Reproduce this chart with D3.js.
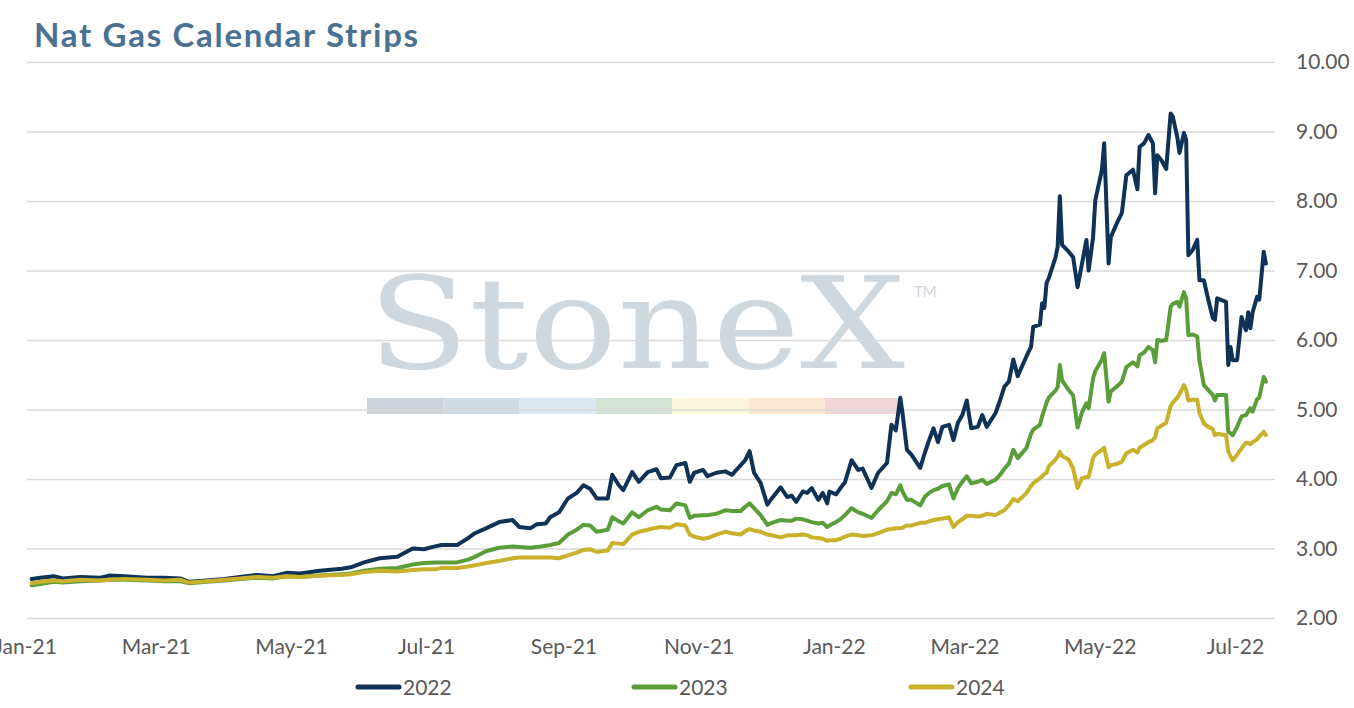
<!DOCTYPE html>
<html>
<head>
<meta charset="utf-8">
<script src="https://cdn.jsdelivr.net/npm/d3@7"></script>
<style>
  html, body { margin: 0; padding: 0; background: #fff; }
  svg { display: block; }
</style>
</head>
<body>
<svg width="1354" height="708"></svg>
<script>
var dates = [
  '2021-01-04','2021-01-08','2021-01-14','2021-01-18','2021-01-26','2021-02-04','2021-02-08','2021-02-15','2021-02-25','2021-03-05',
  '2021-03-12','2021-03-16','2021-03-24','2021-04-01','2021-04-08','2021-04-16','2021-04-23','2021-04-29','2021-05-05','2021-05-14',
  '2021-05-24','2021-05-28','2021-06-03','2021-06-10','2021-06-18','2021-06-25','2021-06-30','2021-07-05','2021-07-08','2021-07-15',
  '2021-07-20','2021-07-23','2021-07-28','2021-08-03','2021-08-09','2021-08-12','2021-08-17','2021-08-20','2021-08-24','2021-08-26',
  '2021-08-30','2021-09-03','2021-09-07','2021-09-10','2021-09-13','2021-09-16','2021-09-21','2021-09-23','2021-09-26','2021-09-28',
  '2021-10-02','2021-10-05','2021-10-09','2021-10-13','2021-10-15','2021-10-19','2021-10-22','2021-10-26','2021-10-28','2021-10-30',
  '2021-11-03','2021-11-05','2021-11-09','2021-11-13','2021-11-16','2021-11-20','2021-11-22','2021-11-24','2021-11-26','2021-11-29',
  '2021-12-02','2021-12-04','2021-12-08','2021-12-11','2021-12-13','2021-12-15','2021-12-18','2021-12-20','2021-12-22','2021-12-25',
  '2021-12-27','2021-12-29','2021-12-30','2022-01-02','2022-01-04','2022-01-06','2022-01-09','2022-01-12','2022-01-14','2022-01-18',
  '2022-01-21','2022-01-25','2022-01-27','2022-01-29','2022-01-31','2022-02-01','2022-02-03','2022-02-05','2022-02-09','2022-02-11',
  '2022-02-13','2022-02-15','2022-02-17','2022-02-19','2022-02-22','2022-02-24','2022-02-26','2022-02-28','2022-03-02','2022-03-04',
  '2022-03-07','2022-03-09','2022-03-11','2022-03-15','2022-03-17','2022-03-19','2022-03-21','2022-03-23','2022-03-25','2022-03-29',
  '2022-03-31','2022-04-01','2022-04-04','2022-04-05','2022-04-06','2022-04-07','2022-04-08','2022-04-11','2022-04-12','2022-04-13',
  '2022-04-14','2022-04-17','2022-04-19','2022-04-21','2022-04-23','2022-04-25','2022-04-26','2022-04-28','2022-04-29','2022-05-02',
  '2022-05-03','2022-05-05','2022-05-06','2022-05-09','2022-05-11','2022-05-13','2022-05-16','2022-05-18','2022-05-19','2022-05-21',
  '2022-05-23','2022-05-25','2022-05-26','2022-05-27','2022-05-29','2022-05-31','2022-06-02','2022-06-03','2022-06-05','2022-06-06',
  '2022-06-08','2022-06-09','2022-06-10','2022-06-12','2022-06-14','2022-06-15','2022-06-17','2022-06-19','2022-06-21','2022-06-22',
  '2022-06-23','2022-06-27','2022-06-28','2022-06-29','2022-06-30','2022-07-02','2022-07-04','2022-07-06','2022-07-07','2022-07-08',
  '2022-07-09','2022-07-11','2022-07-12','2022-07-14','2022-07-15'
];
var strip2022 = [
  2.56,2.58,2.60,2.57,2.59,2.58,2.61,2.60,2.58,2.58,
  2.57,2.52,2.54,2.56,2.59,2.62,2.60,2.65,2.64,2.68,
  2.71,2.73,2.80,2.86,2.88,3.00,2.99,3.03,3.05,3.05,
  3.15,3.22,3.29,3.38,3.41,3.31,3.29,3.35,3.36,3.45,
  3.52,3.72,3.80,3.91,3.86,3.72,3.72,4.06,3.91,3.84,
  4.10,3.96,4.10,4.14,4.01,4.02,4.20,4.23,3.96,4.09,
  4.13,4.04,4.09,4.11,4.06,4.20,4.27,4.40,4.09,3.94,
  3.63,3.72,3.88,3.74,3.76,3.67,3.82,3.80,3.87,3.70,
  3.80,3.65,3.82,3.78,3.87,3.95,4.27,4.13,4.15,3.87,
  4.09,4.23,4.78,4.70,5.17,4.95,4.42,4.35,4.16,4.37,
  4.56,4.73,4.53,4.75,4.78,4.56,4.81,4.92,5.13,4.73,
  4.75,4.92,4.75,4.95,5.13,5.33,5.40,5.72,5.48,5.77,
  5.90,6.19,6.22,6.53,6.46,6.82,6.89,7.18,7.34,8.07,
  7.37,7.27,7.19,6.76,7.10,7.44,7.00,7.48,8.01,8.45,
  8.83,7.10,7.48,7.70,7.83,8.37,8.45,8.17,8.78,8.83,
  8.95,8.83,8.11,8.66,8.58,8.46,9.26,9.21,8.92,8.69,
  8.98,8.88,7.22,7.30,7.44,6.86,6.86,6.58,6.32,6.29,
  6.60,6.55,5.64,5.90,5.71,5.71,6.33,6.14,6.40,6.17,
  6.40,6.62,6.58,7.27,7.10
];
var strip2023 = [
  2.47,2.49,2.52,2.51,2.53,2.54,2.55,2.55,2.54,2.53,
  2.53,2.50,2.52,2.54,2.56,2.58,2.57,2.60,2.59,2.61,
  2.63,2.64,2.68,2.71,2.72,2.77,2.79,2.80,2.80,2.80,
  2.84,2.88,2.96,3.01,3.03,3.02,3.01,3.02,3.04,3.05,
  3.08,3.20,3.27,3.34,3.33,3.24,3.27,3.45,3.39,3.36,
  3.52,3.45,3.55,3.60,3.56,3.55,3.65,3.62,3.44,3.47,
  3.48,3.48,3.50,3.55,3.54,3.54,3.60,3.65,3.58,3.48,
  3.34,3.37,3.41,3.40,3.40,3.43,3.42,3.40,3.38,3.36,
  3.37,3.31,3.33,3.38,3.42,3.48,3.58,3.52,3.50,3.44,
  3.55,3.68,3.80,3.78,3.91,3.82,3.70,3.70,3.62,3.74,
  3.80,3.84,3.86,3.90,3.92,3.72,3.87,3.96,4.04,3.94,
  3.96,3.99,3.93,3.99,4.06,4.15,4.22,4.42,4.30,4.45,
  4.65,4.71,4.78,4.90,5.00,5.10,5.17,5.27,5.32,5.64,
  5.42,5.28,5.20,4.74,4.96,5.09,5.02,5.45,5.55,5.72,
  5.81,5.11,5.26,5.34,5.40,5.61,5.68,5.62,5.78,5.82,
  5.90,5.85,5.68,6.00,5.99,6.00,6.48,6.52,6.55,6.48,
  6.69,6.60,6.07,6.08,6.05,5.70,5.35,5.28,5.21,5.13,
  5.21,5.21,4.68,4.66,4.63,4.75,4.90,4.92,4.97,5.02,
  4.97,5.15,5.17,5.47,5.40
];
var strip2024 = [
  2.50,2.52,2.54,2.53,2.55,2.54,2.55,2.56,2.55,2.54,
  2.55,2.51,2.53,2.55,2.57,2.59,2.58,2.60,2.59,2.61,
  2.62,2.63,2.66,2.68,2.67,2.69,2.70,2.70,2.72,2.72,
  2.74,2.76,2.79,2.82,2.86,2.87,2.87,2.87,2.87,2.87,
  2.86,2.90,2.94,2.98,2.99,2.95,2.97,3.08,3.07,3.06,
  3.20,3.24,3.27,3.30,3.31,3.30,3.35,3.33,3.20,3.17,
  3.14,3.15,3.20,3.24,3.22,3.20,3.25,3.28,3.26,3.24,
  3.20,3.19,3.16,3.19,3.19,3.19,3.20,3.19,3.16,3.15,
  3.14,3.11,3.12,3.12,3.14,3.17,3.20,3.19,3.18,3.19,
  3.22,3.27,3.28,3.29,3.29,3.30,3.33,3.33,3.37,3.37,
  3.39,3.41,3.42,3.43,3.45,3.31,3.38,3.42,3.47,3.47,
  3.46,3.47,3.50,3.48,3.52,3.55,3.62,3.71,3.68,3.80,
  3.90,3.94,4.01,4.04,4.07,4.09,4.18,4.28,4.32,4.39,
  4.33,4.28,4.15,3.87,4.01,4.03,4.03,4.30,4.35,4.42,
  4.45,4.17,4.20,4.22,4.25,4.37,4.42,4.38,4.45,4.49,
  4.53,4.56,4.60,4.73,4.77,4.81,5.05,5.10,5.17,5.22,
  5.35,5.28,5.13,5.14,5.14,4.95,4.80,4.75,4.72,4.63,
  4.65,4.63,4.40,4.33,4.27,4.35,4.44,4.52,4.52,4.50,
  4.53,4.57,4.61,4.68,4.63
];
var seriesNames = ['2022', '2023', '2024'];
var seriesColors = ['#0f3257', '#5a9e3a', '#c9b12c'];
var yTicks = [2, 3, 4, 5, 6, 7, 8, 9, 10];
var xTickDates = ['2021-01-01','2021-03-01','2021-05-01','2021-07-01','2021-09-01','2021-11-01',
                  '2022-01-01','2022-03-01','2022-05-01','2022-07-01'];

var svg = d3.select('svg');
var parse = d3.timeParse('%Y-%m-%d');
var font = 'Lato, "Open Sans", sans-serif';
var textGrey = '#595959';

var x = d3.scaleTime()
    .domain([parse('2021-01-01'), parse('2022-07-20')])
    .range([25, 1277]);
var y = d3.scaleLinear()
    .domain([2, 10])
    .range([618, 62]);

// title
svg.append('text')
    .attr('x', 34)
    .attr('y', 47)
    .attr('font-family', font)
    .attr('font-weight', 700)
    .attr('font-size', 33)
    .attr('letter-spacing', 1.7)
    .attr('fill', '#4a7190')
    .text('Nat Gas Calendar Strips');

// watermark sits under the grid
var wm = svg.append('g');
wm.append('text')
    .attr('x', 368)
    .attr('y', 368)
    .attr('font-family', '"DejaVu Serif", "Liberation Serif", serif')
    .attr('font-size', 128)
    .attr('fill', '#cfd7df')
    .attr('textLength', 537)
    .attr('lengthAdjust', 'spacingAndGlyphs')
    .text('StoneX');
wm.append('text')
    .attr('x', 914)
    .attr('y', 297)
    .attr('font-family', font)
    .attr('font-size', 15)
    .attr('fill', '#cfd7df')
    .text('TM');
var bandColors = ['#cdd3db', '#d0dbe6', '#dce9f3', '#d3e3d6', '#faf7dc', '#fbe8d2', '#f2d5d7'];
wm.selectAll('rect')
    .data(bandColors)
    .enter()
    .append('rect')
    .attr('x', function (d, i) { return 367 + i * 76.3; })
    .attr('y', 398)
    .attr('width', 76.3)
    .attr('height', 16)
    .attr('fill', function (d) { return d; });

// gridlines
var grid = svg.append('g')
    .attr('transform', 'translate(1275,0)')
    .call(d3.axisLeft(y).tickValues(yTicks).tickSize(1248).tickFormat(''));
grid.select('.domain').remove();
grid.selectAll('line').attr('stroke', '#d9d9d9').attr('stroke-width', 1.5);

// right value axis
var yAxis = svg.append('g')
    .attr('transform', 'translate(1296,0)')
    .call(d3.axisRight(y).tickValues(yTicks).tickSize(0).tickPadding(0).tickFormat(d3.format('.2f')));
yAxis.select('.domain').remove();
yAxis.selectAll('text')
    .attr('font-family', font)
    .attr('font-size', 21)
    .attr('fill', textGrey);

// date axis
var xAxis = svg.append('g')
    .attr('transform', 'translate(0,639)')
    .call(d3.axisBottom(x).tickValues(xTickDates.map(parse)).tickSize(0).tickPadding(0)
        .tickFormat(d3.timeFormat('%b-%y')));
xAxis.select('.domain').remove();
xAxis.selectAll('text')
    .attr('font-family', font)
    .attr('font-size', 21)
    .attr('fill', textGrey);

// lines
var allSeries = [strip2022, strip2023, strip2024];
var line = d3.line()
    .x(function (d) { return x(d.date); })
    .y(function (d) { return y(d.value); });
allSeries.forEach(function (vals, k) {
    var pts = vals.map(function (v, i) { return { date: parse(dates[i]), value: v }; });
    svg.append('path')
        .datum(pts)
        .attr('d', line)
        .attr('fill', 'none')
        .attr('stroke', seriesColors[k])
        .attr('stroke-width', 4)
        .attr('stroke-linejoin', 'round')
        .attr('stroke-linecap', 'round');
});

// legend
var legendX = [358, 634, 911];
var legend = svg.append('g');
seriesNames.forEach(function (name, k) {
    legend.append('line')
        .attr('x1', legendX[k])
        .attr('x2', legendX[k] + 41)
        .attr('y1', 687)
        .attr('y2', 687)
        .attr('stroke', seriesColors[k])
        .attr('stroke-width', 5)
        .attr('stroke-linecap', 'round');
    legend.append('text')
        .attr('x', legendX[k] + 45)
        .attr('y', 695)
        .attr('font-family', font)
        .attr('font-size', 21)
        .attr('fill', textGrey)
        .text(name);
});
</script>
</body>
</html>
